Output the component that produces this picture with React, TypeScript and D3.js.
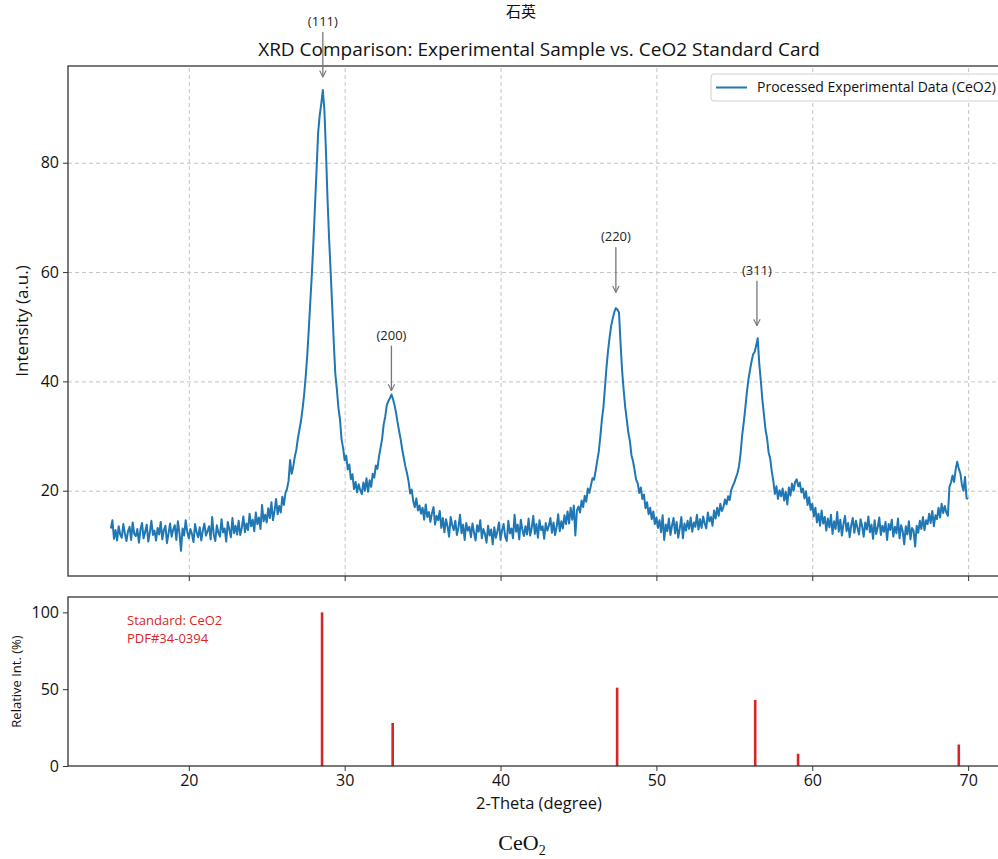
import React, { useEffect, useRef } from 'react';
import * as d3 from 'd3';

// experimental scan: 15.0 -> 70.0 deg, 0.1 deg step
const scanStart = 15;
const scanStep = 0.1;
const intensity = [
  13.1, 14.6, 11.2, 12.8, 10.9, 13.5, 12.0, 11.4, 13.9, 12.2,
  10.8, 12.6, 13.4, 11.0, 14.2, 12.1, 11.7, 13.0, 10.5, 12.9,
  14.1, 11.3, 12.5, 13.8, 10.7, 12.4, 14.5, 11.9, 12.7, 10.9,
  13.2, 12.0, 14.3, 11.1, 12.8, 13.6, 10.4, 12.2, 14.0, 11.6,
  12.9, 13.7, 11.0, 14.4, 12.3, 9.0, 13.1, 11.8, 14.6, 12.5,
  11.3, 13.0, 12.1, 10.6, 13.9, 12.4, 11.5, 13.3, 10.9, 12.7,
  14.0, 11.8, 12.6, 13.5, 11.1, 15.2, 12.0, 10.8, 13.7, 12.3,
  11.6, 14.8, 12.4, 13.1, 10.7, 14.3, 12.9, 11.5, 15.0, 12.2,
  13.6, 12.0, 14.5, 11.9, 13.2, 15.3, 12.4, 14.0, 12.8, 15.8,
  13.5, 14.7, 12.6, 16.0, 13.9, 15.1, 13.0, 17.4, 14.4, 15.6,
  14.2, 16.8, 15.0, 17.9, 14.6, 16.3, 18.5, 15.7, 17.2, 16.0,
  18.9, 17.4, 19.6, 20.3, 21.8, 25.6, 23.1, 24.4, 26.2, 27.5,
  29.6, 31.2, 32.8, 35.0, 37.6, 40.9, 44.8, 49.6, 54.8, 59.9,
  65.8, 72.4, 78.9, 85.6, 88.7, 90.8, 93.3, 89.6, 82.1, 73.4,
  66.2, 60.1, 53.8, 47.2, 41.4, 38.6, 35.1, 33.0, 29.4, 27.8,
  25.6, 26.4, 23.9, 24.8, 22.1, 23.0, 20.3, 21.6, 19.7, 21.2,
  20.1, 19.4, 21.5, 20.0, 22.3, 19.8, 21.9, 20.7, 23.1, 22.4,
  24.6, 24.0, 26.2, 27.8, 29.4, 32.1, 33.5, 35.6, 36.4, 36.9,
  37.6, 36.8, 35.7, 34.2, 32.4, 30.8, 29.3, 27.4, 25.9, 24.4,
  23.2, 21.7, 19.5, 20.2, 18.1, 17.0, 18.6, 16.4, 17.3, 15.8,
  16.9, 14.7, 17.5, 15.2, 16.1, 14.3, 15.9, 17.0, 13.8, 15.4,
  14.6, 16.3, 13.2, 15.0, 12.4, 14.8, 13.5, 11.6, 15.2, 13.7,
  12.8, 14.5, 11.9, 13.3, 15.6, 12.2, 13.8, 11.0, 14.1, 12.7,
  13.4, 11.5, 14.0, 12.3, 10.9, 13.7, 12.5, 14.6, 11.3, 13.0,
  12.1, 10.5, 13.6, 11.8, 12.9, 10.2, 13.3, 11.4, 12.6, 14.2,
  11.0, 12.8, 13.9, 11.6, 10.8, 14.5, 12.2, 13.1, 11.3, 15.6,
  12.5, 13.8, 11.1, 14.7, 12.9, 11.7, 13.5, 12.0, 14.9, 11.8,
  13.2, 15.4, 12.1, 13.9, 11.4, 14.6, 12.8, 13.5, 11.2, 14.1,
  12.7, 13.6, 15.0, 12.3, 14.2, 11.9, 13.4, 15.7, 12.6, 14.4,
  13.1, 15.5, 13.9, 16.2, 14.0, 16.9, 14.7, 17.3, 11.8, 16.4,
  17.1, 16.0, 18.2, 17.0, 19.1, 18.0, 20.4, 19.6, 21.0, 22.3,
  22.0, 23.6, 25.4, 27.1, 29.8, 32.9, 35.3, 38.9, 42.6, 45.7,
  48.1, 50.2, 51.5, 52.7, 53.4, 53.1, 52.6, 47.0, 42.0, 38.4,
  35.3, 33.0, 30.6, 29.1, 26.5, 25.4, 23.8, 22.0, 21.4, 19.6,
  20.6, 18.5, 19.3, 16.8, 17.9, 15.7, 16.9, 14.8, 16.2, 13.9,
  15.1, 13.2, 14.6, 12.4, 15.5, 11.0, 13.8, 12.6, 14.9, 11.9,
  13.6, 15.0, 12.2, 14.3, 11.4, 13.1, 15.2, 11.3, 14.0, 12.7,
  14.5, 13.0, 15.1, 12.5, 14.2, 13.4, 15.6, 12.9, 14.8, 13.2,
  15.3, 14.0, 13.1, 16.0, 14.4, 15.2, 13.6, 16.4, 14.9, 16.9,
  15.4, 17.6, 16.3, 17.0, 18.4, 17.5, 19.0, 18.3, 20.1, 20.9,
  21.5, 22.4, 23.2, 24.5, 26.8, 30.1, 32.4, 35.0, 37.9, 40.3,
  42.0, 43.6, 44.9, 45.4, 46.5, 47.9, 43.2, 40.1, 36.6, 33.9,
  31.2, 29.6, 27.0, 25.9, 23.6, 21.8, 19.4, 20.8, 18.5, 20.1,
  19.0, 20.4, 18.2, 19.8, 17.5, 20.6, 19.1, 21.3, 20.0, 21.6,
  22.1, 20.8, 21.5, 19.7, 20.4, 18.6, 19.9, 17.4, 18.8, 16.5,
  17.6, 15.3, 16.9, 14.2, 15.8, 13.6, 16.4, 14.0, 15.2, 12.7,
  14.9, 13.3, 15.6, 12.1, 14.4, 13.0, 16.1, 12.5, 14.7, 11.8,
  13.9, 15.4, 12.6, 14.1, 11.5, 13.7, 15.0, 12.3, 14.5, 13.2,
  12.0, 14.8, 13.5, 11.6, 14.2, 12.9, 15.3, 12.4, 13.8, 11.2,
  14.6, 12.1, 13.3, 15.1, 11.9, 13.6, 12.5, 14.3, 11.0, 13.9,
  12.8, 14.7, 11.6, 13.4, 12.2, 14.9, 11.3, 13.7, 12.6, 10.2,
  13.5, 12.0, 14.4, 11.1, 13.2, 12.7, 9.8, 13.6, 12.3, 14.5,
  13.0, 15.2, 12.8, 14.6, 13.9, 15.8, 14.1, 16.3, 13.5, 15.5,
  14.8, 16.9, 15.1, 17.6, 15.9, 17.2, 16.0, 15.4, 20.7, 21.5,
  22.8, 21.6, 23.9, 25.3, 24.0, 23.2, 21.1, 20.0, 22.5, 18.6,
  18.5,
];

// annotated peaks
const peakLabels = ['(111)', '(200)', '(220)', '(311)'];
const peakPos = [28.6, 33.0, 47.4, 56.45];
const peakTip = [95.7, 38.3, 56.3, 50.2];

// standard card PDF#34-0394
const stdPos = [28.55, 33.08, 47.48, 56.34, 59.09, 69.4];
const stdInt = [100, 28, 51, 43, 8, 14];

const xTicks = [20, 30, 40, 50, 60, 70];
const yTicksTop = [20, 40, 60, 80];
const yTicksBottom = [0, 50, 100];

const FONT = 'Open Sans, sans-serif';

export default function App() {
  const svgRef = useRef(null);

  useEffect(() => {
    const svg = d3.select(svgRef.current);
    svg.selectAll('*').remove();

    const left = 68;
    const right = 1011;
    const top1 = 66, bot1 = 576;
    const top2 = 597, bot2 = 766;

    const x = d3.scaleLinear().domain([12.25, 72.75]).range([left, right]);
    const y1 = d3.scaleLinear().domain([4.4, 97.7]).range([bot1, top1]);
    const y2 = d3.scaleLinear().domain([0, 110]).range([bot2, top2]);

    svg.append('rect').attr('width', 998).attr('height', 859).attr('fill', '#fff');

    // caption at the very top
    svg.append('text')
      .attr('x', 521).attr('y', 17)
      .attr('text-anchor', 'middle')
      .attr('font-family', 'Noto Sans CJK SC')
      .attr('font-size', 15)
      .attr('fill', '#111')
      .text('石英');

    // ---- top panel ----
    const g1 = svg.append('g');

    g1.append('g')
      .attr('transform', `translate(0,${bot1})`)
      .call(d3.axisBottom(x).tickValues(xTicks).tickSize(-(bot1 - top1)).tickFormat(() => ''))
      .call(a => a.select('.domain').remove())
      .call(a => a.selectAll('line').attr('stroke', '#bdbdbd').attr('stroke-dasharray', '4,3').attr('stroke-width', 0.9));

    g1.append('g')
      .attr('transform', `translate(${left},0)`)
      .call(d3.axisLeft(y1).tickValues(yTicksTop).tickSize(-(right - left)).tickFormat(() => ''))
      .call(a => a.select('.domain').remove())
      .call(a => a.selectAll('line').attr('stroke', '#bdbdbd').attr('stroke-dasharray', '4,3').attr('stroke-width', 0.9));

    const line = d3.line()
      .x((d, i) => x(scanStart + i * scanStep))
      .y(d => y1(d));

    g1.append('path')
      .datum(intensity)
      .attr('d', line)
      .attr('fill', 'none')
      .attr('stroke', '#1f77b4')
      .attr('stroke-width', 2)
      .attr('stroke-linejoin', 'round');

    g1.append('rect')
      .attr('x', left).attr('y', top1)
      .attr('width', right - left).attr('height', bot1 - top1)
      .attr('fill', 'none').attr('stroke', '#333').attr('stroke-width', 1.3);

    // ticks
    const yAx1 = g1.append('g')
      .attr('transform', `translate(${left},0)`)
      .call(d3.axisLeft(y1).tickValues(yTicksTop).tickSize(5).tickPadding(4));
    yAx1.select('.domain').remove();
    yAx1.selectAll('text').attr('font-family', FONT).attr('font-size', 16).attr('fill', '#111');
    yAx1.selectAll('line').attr('stroke', '#333');

    const xAx1 = g1.append('g')
      .attr('transform', `translate(0,${bot1})`)
      .call(d3.axisBottom(x).tickValues(xTicks).tickSize(5).tickFormat(() => ''));
    xAx1.select('.domain').remove();
    xAx1.selectAll('line').attr('stroke', '#333');

    // peak annotations
    const defs = svg.append('defs');
    defs.append('marker')
      .attr('id', 'arrowhead')
      .attr('viewBox', '0 0 10 10')
      .attr('refX', 9).attr('refY', 5)
      .attr('markerWidth', 8).attr('markerHeight', 8)
      .attr('markerUnits', 'userSpaceOnUse')
      .attr('orient', 'auto')
      .append('path')
      .attr('d', 'M1,1 L9,5 L1,9')
      .attr('fill', 'none')
      .attr('stroke', '#777')
      .attr('stroke-width', 1.4);

    peakLabels.forEach((lab, i) => {
      const px = x(peakPos[i]);
      const tip = y1(peakTip[i]);
      g1.append('line')
        .attr('x1', px).attr('x2', px)
        .attr('y1', tip - 45).attr('y2', tip)
        .attr('stroke', '#777').attr('stroke-width', 1.3)
        .attr('marker-end', 'url(#arrowhead)');
      g1.append('text')
        .attr('x', px).attr('y', tip - 51)
        .attr('text-anchor', 'middle')
        .attr('font-family', FONT).attr('font-size', 13)
        .attr('fill', '#222')
        .text(lab);
    });

    // legend
    const lg = g1.append('g');
    lg.append('rect')
      .attr('x', 711).attr('y', 74).attr('width', 300).attr('height', 27)
      .attr('rx', 3)
      .attr('fill', '#fff').attr('fill-opacity', 0.85)
      .attr('stroke', '#d0d0d0');
    lg.append('line')
      .attr('x1', 716).attr('x2', 747).attr('y1', 87.5).attr('y2', 87.5)
      .attr('stroke', '#1f77b4').attr('stroke-width', 2);
    lg.append('text')
      .attr('x', 757).attr('y', 87.5).attr('dy', '0.35em')
      .attr('font-family', FONT).attr('font-size', 14).attr('fill', '#111')
      .text('Processed Experimental Data (CeO2)');

    // title
    svg.append('text')
      .attr('x', 539).attr('y', 56)
      .attr('text-anchor', 'middle')
      .attr('font-family', FONT).attr('font-size', 19).attr('fill', '#111')
      .text('XRD Comparison: Experimental Sample vs. CeO2 Standard Card');

    svg.append('text')
      .attr('transform', `translate(28,${(top1 + bot1) / 2}) rotate(-90)`)
      .attr('text-anchor', 'middle')
      .attr('font-family', FONT).attr('font-size', 17).attr('fill', '#111')
      .text('Intensity (a.u.)');

    // ---- bottom panel ----
    const g2 = svg.append('g');

    g2.selectAll('.stick')
      .data(stdPos)
      .enter()
      .append('line')
      .attr('class', 'stick')
      .attr('x1', d => x(d)).attr('x2', d => x(d))
      .attr('y1', y2(0))
      .attr('y2', (d, i) => y2(stdInt[i]))
      .attr('stroke', '#d62728')
      .attr('stroke-width', 2.6);

    g2.append('rect')
      .attr('x', left).attr('y', top2)
      .attr('width', right - left).attr('height', bot2 - top2)
      .attr('fill', 'none').attr('stroke', '#333').attr('stroke-width', 1.3);

    const yAx2 = g2.append('g')
      .attr('transform', `translate(${left},0)`)
      .call(d3.axisLeft(y2).tickValues(yTicksBottom).tickSize(5).tickPadding(4));
    yAx2.select('.domain').remove();
    yAx2.selectAll('text').attr('font-family', FONT).attr('font-size', 16).attr('fill', '#111');
    yAx2.selectAll('line').attr('stroke', '#333');

    const xAx2 = g2.append('g')
      .attr('transform', `translate(0,${bot2})`)
      .call(d3.axisBottom(x).tickValues(xTicks).tickSize(5).tickPadding(4));
    xAx2.select('.domain').remove();
    xAx2.selectAll('text').attr('font-family', FONT).attr('font-size', 16).attr('fill', '#111');
    xAx2.selectAll('line').attr('stroke', '#333');

    g2.append('text')
      .attr('x', 127).attr('y', 625)
      .attr('font-family', FONT).attr('font-size', 13).attr('fill', '#d62728')
      .text('Standard: CeO2');
    g2.append('text')
      .attr('x', 127).attr('y', 643)
      .attr('font-family', FONT).attr('font-size', 13).attr('fill', '#d62728')
      .text('PDF#34-0394');

    svg.append('text')
      .attr('transform', `translate(21,${(top2 + bot2) / 2}) rotate(-90)`)
      .attr('text-anchor', 'middle')
      .attr('font-family', FONT).attr('font-size', 13).attr('fill', '#111')
      .text('Relative Int. (%)');

    svg.append('text')
      .attr('x', 539).attr('y', 809)
      .attr('text-anchor', 'middle')
      .attr('font-family', FONT).attr('font-size', 16.5).attr('fill', '#111')
      .text('2-Theta (degree)');

    // bottom caption
    const cap = svg.append('text')
      .attr('x', 522).attr('y', 850)
      .attr('text-anchor', 'middle')
      .attr('font-family', 'Liberation Serif, serif')
      .attr('font-size', 22).attr('fill', '#111');
    cap.append('tspan').text('CeO');
    cap.append('tspan').attr('font-size', 14).attr('dy', 5).text('2');
  }, []);

  return (
    <div style={{ position: 'absolute', left: 0, top: 0, width: 998, height: 859, overflow: 'hidden', background: '#fff' }}>
      <svg ref={svgRef} width={998} height={859} style={{ display: 'block' }}></svg>
    </div>
  );
}
